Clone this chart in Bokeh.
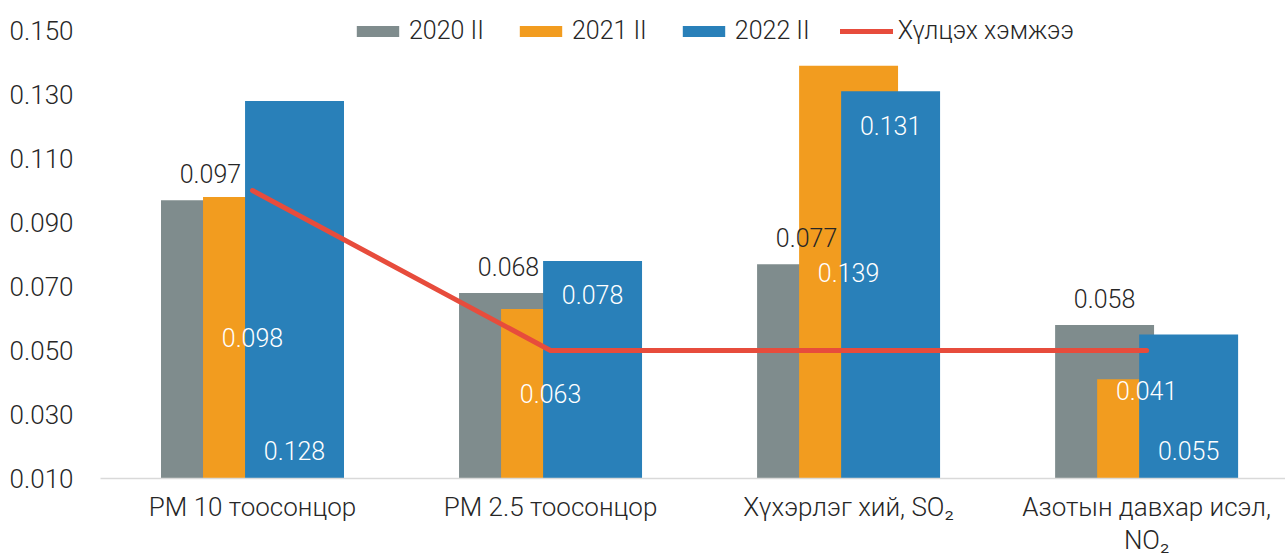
from bokeh.plotting import figure
from bokeh.models import (Range1d, FixedTicker, Legend, LegendItem, ColumnDataSource,
                          NumeralTickFormatter)
from bokeh.core.properties import value
from bokeh.embed import file_html
from bokeh.resources import INLINE

# ---------------- data ----------------
categories = ["PM 10 тоосонцор", "PM 2.5 тоосонцор", "Хүхэрлэг хий, SO₂",
              "Азотын давхар исэл,\nNO₂"]
series_names = ["2020 II", "2021 II", "2022 II"]
v2020 = [0.097, 0.068, 0.077, 0.058]
v2021 = [0.098, 0.063, 0.139, 0.041]
v2022 = [0.128, 0.078, 0.131, 0.055]
limit_name = "Хүлцэх хэмжээ"
limit = [0.100, 0.050, 0.050, 0.050]
y_ticks = [0.010, 0.030, 0.050, 0.070, 0.090, 0.110, 0.130, 0.150]

# ---------------- style ----------------
FONT = "Roboto Light"
C2020, C2021, C2022, CLINE = "#7F8C8D", "#F29C1F", "#2980B9", "#E74C3C"
TXT = "#262626"
BAR_W = 0.332
OFF = 0.141
# label placement tweaks (screen px)
shift2021 = [0, 0, 0, -38]
pos2022 = ["base", "end", "end", "base"]

idx = list(range(len(categories)))

p = figure(width=1285, height=557, output_backend="svg", toolbar_location=None,
           x_range=Range1d(-0.51, 3.466), y_range=Range1d(0.010, 0.1594),
           min_border_left=100, min_border_right=0, min_border_top=0,
           min_border_bottom=76, outline_line_color=None)
p.grid.visible = False
p.background_fill_color = "white"

src = ColumnDataSource(dict(
    x=idx,
    x0=[i - OFF for i in idx],
    x2=[i + OFF for i in idx],
    v2020=v2020, v2021=v2021, v2022=v2022, limit=limit,
    t2020=[f"{v:.3f}" for v in v2020],
    t2021=[f"{v:.3f}" for v in v2021],
    mid2021=[(y_ticks[0] + v) / 2 for v in v2021],
    sh2021=shift2021,
))

r0 = p.vbar(x="x0", top="v2020", bottom=0, width=BAR_W, source=src,
            fill_color=C2020, line_color=None)
r1 = p.vbar(x="x", top="v2021", bottom=0, width=BAR_W, source=src,
            fill_color=C2021, line_color=None)
r2 = p.vbar(x="x2", top="v2022", bottom=0, width=BAR_W, source=src,
            fill_color=C2022, line_color=None)
rl = p.line(x="x", y="limit", source=src, line_color=CLINE, line_width=5,
            line_cap="round", line_join="round")

# data labels
p.text(x="x0", y="v2020", text="t2020", source=src, text_font=value(FONT),
       text_font_size="25px", text_color=TXT, text_align="center",
       text_baseline="bottom", y_offset=-17)
p.text(x="x", y="mid2021", text="t2021", source=src, text_font=value(FONT),
       text_font_size="25px", text_color="white", text_align="center",
       text_baseline="middle", y_offset="sh2021")
base_x = [i + OFF for i, s in zip(idx, pos2022) if s == "base"]
base_t = [f"{v:.3f}" for v, s in zip(v2022, pos2022) if s == "base"]
end_x = [i + OFF for i, s in zip(idx, pos2022) if s == "end"]
end_v = [v for v, s in zip(v2022, pos2022) if s == "end"]
end_t = [f"{v:.3f}" for v, s in zip(v2022, pos2022) if s == "end"]
p.text(x=base_x, y=[y_ticks[0]] * len(base_x), text=base_t, text_font=value(FONT),
       text_font_size="25px", text_color="white", text_align="center",
       text_baseline="middle", y_offset=-28)
p.text(x=end_x, y=end_v, text=end_t, text_font=value(FONT),
       text_font_size="25px", text_color="white", text_align="center",
       text_baseline="middle", y_offset=34)

# axes
p.yaxis.ticker = FixedTicker(ticks=y_ticks)
p.yaxis.formatter = NumeralTickFormatter(format="0.000")
p.yaxis.axis_line_color = None
p.yaxis.major_tick_line_color = None
p.yaxis.minor_tick_line_color = None
p.yaxis.major_label_standoff = 21
p.yaxis.major_label_text_font = FONT
p.yaxis.major_label_text_font_size = "26px"
p.yaxis.major_label_text_color = TXT

p.xaxis.ticker = FixedTicker(ticks=idx)
p.xaxis.major_label_overrides = {i: c for i, c in zip(idx, categories)}
p.xaxis.axis_line_color = "#D9D9D9"
p.xaxis.axis_line_width = 1.5
p.xaxis.major_tick_line_color = None
p.xaxis.minor_tick_line_color = None
p.xaxis.major_tick_out = 0
p.xaxis.major_tick_in = 0
p.xaxis.major_label_standoff = 13
p.xaxis.major_label_text_font = FONT
p.xaxis.major_label_text_font_size = "26px"
p.xaxis.major_label_text_line_height = 1.1
p.xaxis.major_label_text_color = TXT

legend = Legend(items=[LegendItem(label=series_names[0], renderers=[r0]),
                       LegendItem(label=series_names[1], renderers=[r1]),
                       LegendItem(label=series_names[2], renderers=[r2]),
                       LegendItem(label=limit_name, renderers=[rl])],
                orientation="horizontal", location=(251, 433),
                glyph_width=53, glyph_height=14, label_standoff=5, spacing=30,
                padding=0, margin=0, border_line_alpha=0, background_fill_alpha=0,
                label_text_font=FONT, label_text_font_size="25px",
                label_text_color=TXT)
p.add_layout(legend, "center")

open("out.html", "w").write(file_html(p, INLINE))
